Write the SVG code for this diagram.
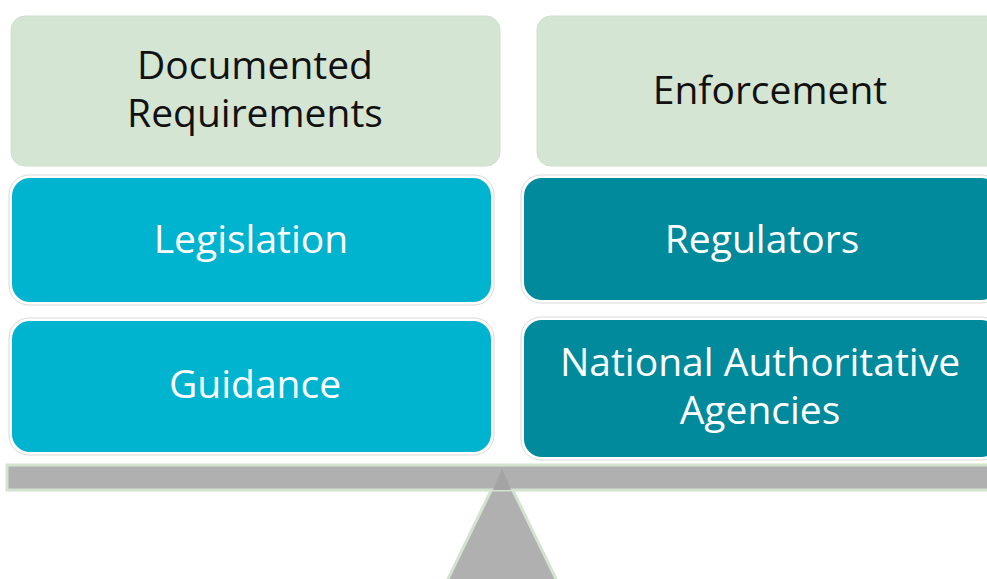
<svg xmlns="http://www.w3.org/2000/svg" width="987" height="579" viewBox="0 0 987 579">
  <style>
    .head { fill: #d5e5d3; stroke: #cfdecd; stroke-width: 1; }
    .halo { fill: #ffffff; stroke: #d9d9d9; stroke-width: 1; }
    .law  { fill: #00b4d0; }
    .enf  { fill: #008a9c; }
    .dark { font-family: "Open Sans", "Liberation Sans", sans-serif; font-size: 39px; fill: #111111; text-anchor: middle; }
    .lite { font-family: "Open Sans", "Liberation Sans", sans-serif; font-size: 39px; fill: #ffffff; text-anchor: middle; }
    .scale { fill: #b0b0b0; stroke: #d3e3d0; stroke-width: 3; }
  </style>

  <rect width="987" height="579" fill="#ffffff"/>

  <!-- fulcrum and balance beam -->
  <g id="balance">
    <polygon class="scale" points="502,468 447,581 557,581"/>
    <rect class="scale" x="7" y="465" width="990" height="25"/>
    <polygon points="502,468 493,490 511,490" fill="#a4a4a4"/>
  </g>

  <!-- left column: documented requirements -->
  <g id="documented-requirements">
    <rect class="head" x="11" y="16" width="489" height="150" rx="14"/>
    <text class="dark" x="255" y="79">Documented</text>
    <text class="dark" x="255" y="127">Requirements</text>
  </g>

  <g id="legislation">
    <rect class="halo" x="9" y="175" width="485" height="130" rx="20"/>
    <rect class="law" x="12" y="178" width="479" height="124" rx="18"/>
    <text class="lite" x="251" y="253">Legislation</text>
  </g>

  <g id="guidance">
    <rect class="halo" x="9" y="318" width="485" height="137" rx="20"/>
    <rect class="law" x="12" y="321" width="479" height="131" rx="18"/>
    <text class="lite" x="255" y="398">Guidance</text>
  </g>

  <!-- right column: enforcement -->
  <g id="enforcement">
    <rect class="head" x="537" y="16" width="470" height="150" rx="14"/>
    <text class="dark" x="770" y="104">Enforcement</text>
  </g>

  <g id="regulators">
    <rect class="halo" x="521" y="175" width="480" height="128" rx="20"/>
    <rect class="enf" x="524" y="178" width="475" height="122" rx="18"/>
    <text class="lite" x="762" y="253">Regulators</text>
  </g>

  <g id="national-authoritative-agencies">
    <rect class="halo" x="521" y="317" width="480" height="143" rx="20"/>
    <rect class="enf" x="524" y="320" width="475" height="137" rx="18"/>
    <text class="lite" x="760" y="376">National Authoritative</text>
    <text class="lite" x="760" y="424">Agencies</text>
  </g>

  <!-- no connectors in this layout -->
  <g id="connectors"/>
</svg>
